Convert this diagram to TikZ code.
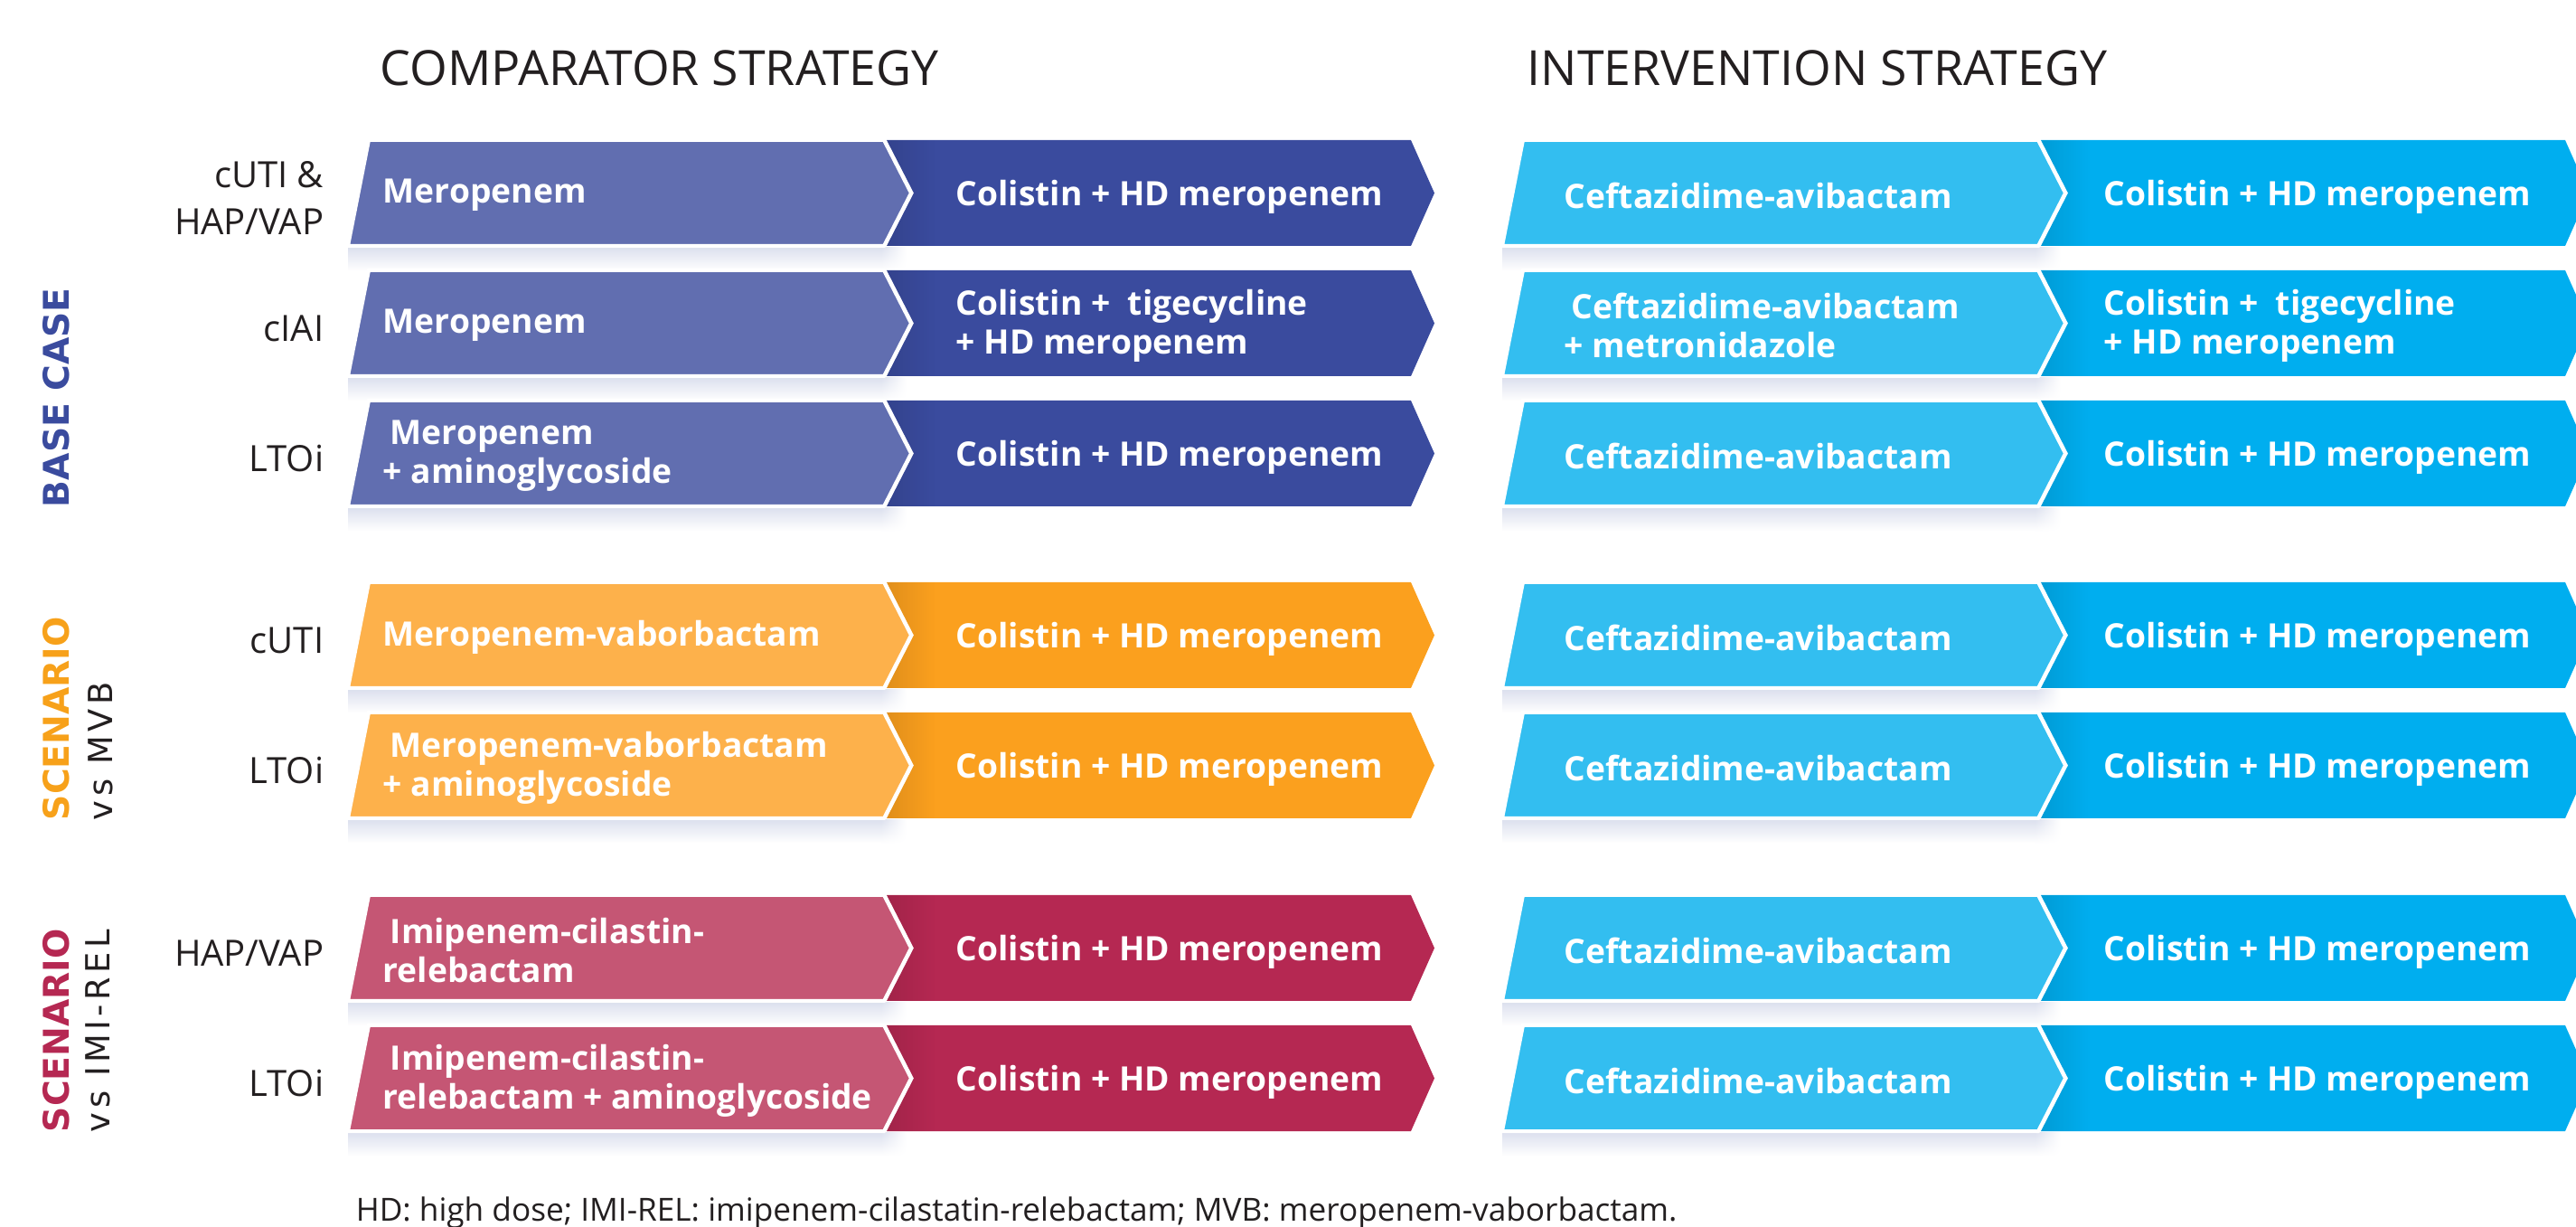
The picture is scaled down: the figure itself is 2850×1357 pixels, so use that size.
\documentclass[tikz,border=0pt]{standalone}
\usepackage{fontspec}
\setmainfont{Open Sans}
\newfontfamily\sidefont{DejaVu Sans}
\newfontfamily\sidefontsp[LetterSpace=12]{DejaVu Sans}
\usetikzlibrary{fadings}

\definecolor{baseA}{HTML}{616EB0}
\definecolor{baseB}{HTML}{3A4B9E}
\definecolor{mvbA}{HTML}{FDB14B}
\definecolor{mvbB}{HTML}{FBA01E}
\definecolor{imiA}{HTML}{C55674}
\definecolor{imiB}{HTML}{B52852}
\definecolor{czaA}{HTML}{33BEF0}
\definecolor{czaB}{HTML}{00AEEF}
\definecolor{mvbhead}{HTML}{F7A11A}
\definecolor{labelcol}{HTML}{231F20}
\definecolor{shadowcol}{HTML}{DCE0EE}

\tikzfading[name=fade right, left color=transparent!0, right color=transparent!100]
\tikzfading[name=fade down, top color=transparent!0, bottom color=transparent!100]

\tikzset{
  drug/.style={text=white, font=\bfseries\fontsize{9.3}{10.75}\selectfont, align=left, anchor=west, inner sep=0pt},
  rowlabel/.style={text=labelcol, font=\fontsize{10}{13}\selectfont, align=right, anchor=east, inner sep=0pt},
  header/.style={text=labelcol, font=\fontsize{13.4}{15}\selectfont, anchor=base west, inner sep=0pt},
  sidehead/.style={rotate=90, anchor=base west, inner sep=0pt, font=\sidefont\bfseries\fontsize{9.8}{11}\selectfont},
  sidesub/.style={rotate=90, anchor=base west, inner sep=0pt, text=labelcol, font=\sidefontsp\fontsize{9.2}{10}\selectfont},
}

% #1 = x of lower left corner, #2 = y of row centre, #3/#4 = light/dark fill
\newcommand\chevpair[4]{%
  \fill[shadowcol, path fading=fade down] (#1,#2+60) rectangle (#1+590,#2+86);
  \shade[top color=shadowcol, bottom color=white, path fading=fade right] (#1+590,#2+60) rectangle (#1+618,#2+86);
  \fill[#4] (#1+596,#2-58.5) -- (#1+1176,#2-58.5) -- (#1+1202,#2) -- (#1+1176,#2+58.5)
    -- (#1+596,#2+58.5) -- (#1+626,#2) -- cycle;
  \begin{scope}
    \clip (#1+596,#2-58.5) -- (#1+1176,#2-58.5) -- (#1+1202,#2) -- (#1+1176,#2+58.5)
      -- (#1+596,#2+58.5) -- (#1+626,#2) -- cycle;
    \fill[black, opacity=.1, path fading=fade right] (#1+596,#2-58.5) rectangle (#1+650,#2+58.5);
  \end{scope}
  \filldraw[fill=#3, draw=white, line width=1pt] (#1+23,#2-58.5) -- (#1+593,#2-58.5) -- (#1+623,#2)
    -- (#1+593,#2+58.5) -- (#1,#2+58.5) -- cycle;
}

\begin{document}
\begin{tikzpicture}[x=0.25pt, y=-0.25pt]
  \useasboundingbox (0,0) rectangle (2850,1357);
  \clip (0,0) rectangle (2850,1357);

  % strategy headings
  \node (cmphead) [header] at (420,95) {COMPARATOR STRATEGY};
  \node (inthead) [header] at (1689,95) {INTERVENTION STRATEGY};

  % chevron rows: comparator on the left, intervention on the right
  \chevpair{385}{213.5}{baseA}{baseB}
  \chevpair{385}{357.5}{baseA}{baseB}
  \chevpair{385}{501.5}{baseA}{baseB}
  \chevpair{385}{702.5}{mvbA}{mvbB}
  \chevpair{385}{846.5}{mvbA}{mvbB}
  \chevpair{385}{1048.5}{imiA}{imiB}
  \chevpair{385}{1192.5}{imiA}{imiB}
  \chevpair{1662}{213.5}{czaA}{czaB}
  \chevpair{1662}{357.5}{czaA}{czaB}
  \chevpair{1662}{501.5}{czaA}{czaB}
  \chevpair{1662}{702.5}{czaA}{czaB}
  \chevpair{1662}{846.5}{czaA}{czaB}
  \chevpair{1662}{1048.5}{czaA}{czaB}
  \chevpair{1662}{1192.5}{czaA}{czaB}

  % infection labels
  \node (lbl1) [rowlabel] at (359,219) {cUTI \&\\HAP/VAP};
  \node (lbl2) [rowlabel] at (359,363) {cIAI};
  \node (lbl3) [rowlabel] at (359,507) {LTOi};
  \node (lbl4) [rowlabel] at (359,708) {cUTI};
  \node (lbl5) [rowlabel] at (359,852) {LTOi};
  \node (lbl6) [rowlabel] at (359,1054) {HAP/VAP};
  \node (lbl7) [rowlabel] at (359,1198) {LTOi};

  % group titles
  \node (basecase) [sidehead, text=baseB] at (77,562) {BASE CASE};
  \node (mvbhead) [sidehead, text=mvbhead] at (77,908) {SCENARIO};
  \node (mvbsub) [sidesub] at (124,908) {vs MVB};
  \node (imihead) [sidehead, text=imiB] at (77,1253) {SCENARIO};
  \node (imisub) [sidesub] at (122,1253) {vs IMI-REL};

  % comparator regimens
  \node (cmpA1) [drug] at (423,216) {Meropenem};
  \node (cmpB1) [drug] at (1057,218) {Colistin + HD meropenem};
  \node (cmpA2) [drug] at (423,360) {Meropenem};
  \node (cmpB2) [drug] at (1057,360) {Colistin + \ tigecycline\\+ HD meropenem};
  \node (cmpA3) [drug] at (423,504) {\hspace*{2pt}Meropenem\\+ aminoglycoside};
  \node (cmpB3) [drug] at (1057,506) {Colistin + HD meropenem};
  \node (cmpA4) [drug] at (423,705) {Meropenem-vaborbactam};
  \node (cmpB4) [drug] at (1057,707) {Colistin + HD meropenem};
  \node (cmpA5) [drug] at (423,849) {\hspace*{2pt}Meropenem-vaborbactam\\+ aminoglycoside};
  \node (cmpB5) [drug] at (1057,851) {Colistin + HD meropenem};
  \node (cmpA6) [drug] at (423,1051) {\hspace*{2pt}Imipenem-cilastin-\\relebactam};
  \node (cmpB6) [drug] at (1057,1053) {Colistin + HD meropenem};
  \node (cmpA7) [drug] at (423,1195) {\hspace*{2pt}Imipenem-cilastin-\\relebactam + aminoglycoside};
  \node (cmpB7) [drug] at (1057,1197) {Colistin + HD meropenem};

  % intervention regimens
  \node (intA1) [drug] at (1730,216) {Ceftazidime-avibactam};
  \node (intB1) [drug] at (2327,218) {Colistin + HD meropenem};
  \node (intA2) [drug] at (1730,360) {\hspace*{2pt}Ceftazidime-avibactam\\+ metronidazole};
  \node (intB2) [drug] at (2327,360) {Colistin + \ tigecycline\\+ HD meropenem};
  \node (intA3) [drug] at (1730,504) {Ceftazidime-avibactam};
  \node (intB3) [drug] at (2327,506) {Colistin + HD meropenem};
  \node (intA4) [drug] at (1730,705) {Ceftazidime-avibactam};
  \node (intB4) [drug] at (2327,707) {Colistin + HD meropenem};
  \node (intA5) [drug] at (1730,849) {Ceftazidime-avibactam};
  \node (intB5) [drug] at (2327,851) {Colistin + HD meropenem};
  \node (intA6) [drug] at (1730,1051) {Ceftazidime-avibactam};
  \node (intB6) [drug] at (2327,1053) {Colistin + HD meropenem};
  \node (intA7) [drug] at (1730,1195) {Ceftazidime-avibactam};
  \node (intB7) [drug] at (2327,1197) {Colistin + HD meropenem};

  % abbreviations
  \node (abbr) [anchor=base west, inner sep=0pt, text=labelcol, font=\fontsize{8.8}{10}\selectfont] at (393,1350)
    {HD: high dose; IMI-REL: imipenem-cilastatin-relebactam; MVB: meropenem-vaborbactam.};
\end{tikzpicture}
\end{document}
